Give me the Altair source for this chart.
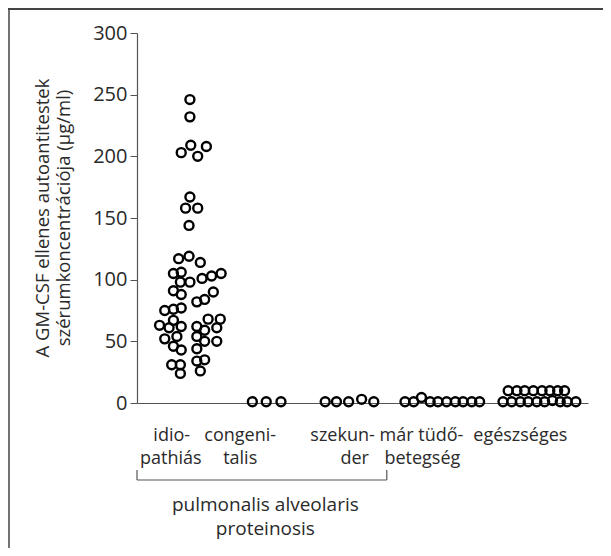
import altair as alt
import pandas as pd

# ---- data ----
groups = ["idiopathiás", "congenitalis", "szekunder", "már tüdőbetegség", "egészséges"]

idio_x = [6.1, 6.1, 5.1, 6.2, 7.0, 8.0, 6.1, 5.6, 7.0, 6.0,
          4.8, 6.0, 7.3,
          4.2, 5.1, 5.0, 6.1, 7.5, 8.6, 9.7,
          4.2, 5.1, 6.9, 7.8, 8.8,
          3.2, 4.2, 5.1,
          2.6, 3.7, 4.2, 5.1, 6.9, 8.2, 9.6, 7.8, 9.2,
          3.2, 4.6, 6.9, 7.8, 9.2,
          4.2, 5.1, 6.9,
          4.0, 5.0, 5.0, 6.9, 7.8, 7.3]
idio_y = [246, 232, 203, 209, 200, 208, 167, 158, 158, 144,
          117, 119, 114,
          105, 106, 98, 98, 101, 103, 105,
          91, 88, 82, 84, 90,
          75, 76, 77,
          63, 61, 67, 62, 62, 68, 68, 59, 61,
          52, 54, 54, 50, 50,
          46, 43, 44,
          31, 31, 24, 34, 35, 26]

cong_x = [13.3, 14.9, 16.6]
cong_y = [1, 1, 1]

szek_x = [21.7, 23.0, 24.4, 25.9, 27.3]
szek_y = [1, 1, 1, 3, 1]

mar_x = [30.9, 31.9, 32.8, 33.8, 34.7, 35.7, 36.7, 37.6, 38.6, 39.5]
mar_y = [1, 1, 4.5, 1, 1, 1, 1, 1, 1, 1]

eg_x = [42.2, 43.2, 44.2, 45.1, 46.1, 47.0, 47.9, 48.8, 49.6, 50.6,
        42.8, 43.8, 44.7, 45.7, 46.7, 47.6, 48.5, 49.3]
eg_y = [1, 1, 1, 1, 1, 1, 2, 1, 1, 1,
        10, 10, 10, 10, 10, 10, 10, 10]

label_line1 = ["idio-", "congeni-", "szekun-", "már tüdő-", "egészséges"]
label_line1_x = [4.0, 11.9, 23.7, 32.8, 44.2]
label_line2 = ["pathiás", "talis", "der", "betegség"]
label_line2_x = [3.9, 11.9, 25.1, 32.9]

bracket_x = [0, 28.8]
bracket_text = ["pulmonalis alveolaris", "proteinosis"]
bracket_text_x = 14.8

y_ticks = [0, 50, 100, 150, 200, 250, 300]
y_title = ["A GM-CSF ellenes autoantitestek", "szérumkoncentrációja (µg/ml)"]

# ---- tables ----
rows = []
for g, xs, ys in zip(groups, [idio_x, cong_x, szek_x, mar_x, eg_x],
                     [idio_y, cong_y, szek_y, mar_y, eg_y]):
    for a, b in zip(xs, ys):
        rows.append({"group": g, "pos": a, "value": b})
pts = pd.DataFrame(rows)

FONT = "Open Sans"
TXT = "#2a2a2a"
AX = "#555555"
FS = 18

xscale = alt.Scale(domain=[0, 52], nice=False, zero=False)
yscale = alt.Scale(domain=[0, 300], nice=False)

points = alt.Chart(pts).mark_point(
    shape="circle", filled=False, stroke="black", strokeWidth=2.4,
    size=80, opacity=1
).encode(
    x=alt.X("pos:Q", scale=xscale,
            axis=alt.Axis(labels=False, ticks=False, title=None, grid=False,
                          domainColor=AX, domainWidth=1.2)),
    y=alt.Y("value:Q", scale=yscale,
            axis=alt.Axis(values=y_ticks, grid=False, tickSize=7,
                          tickColor=AX, domainColor=AX, domainWidth=1.2,
                          labelFont=FONT, labelFontSize=20, labelColor=TXT,
                          labelPadding=3, title=None)),
)

t1 = alt.Chart(pd.DataFrame({"t": [y_title[0]]})).mark_text(
    font=FONT, fontSize=18.5, color=TXT, angle=270, baseline="middle", align="center"
).encode(x=alt.value(-94), y=alt.value(185), text="t:N")
t2 = alt.Chart(pd.DataFrame({"t": [y_title[1]]})).mark_text(
    font=FONT, fontSize=18.5, color=TXT, angle=270, baseline="middle", align="center"
).encode(x=alt.value(-73), y=alt.value(185), text="t:N")

l1 = alt.Chart(pd.DataFrame({"t": label_line1, "x": label_line1_x})).mark_text(
    font=FONT, fontSize=FS, color=TXT, baseline="middle", align="center"
).encode(x=alt.X("x:Q", scale=xscale), y=alt.value(403), text="t:N")

l2 = alt.Chart(pd.DataFrame({"t": label_line2, "x": label_line2_x})).mark_text(
    font=FONT, fontSize=FS, color=TXT, baseline="middle", align="center"
).encode(x=alt.X("x:Q", scale=xscale), y=alt.value(426), text="t:N")

br_df = pd.DataFrame({"x0": [bracket_x[0]], "x1": [bracket_x[1]]})
br_h = alt.Chart(br_df).mark_rule(color=AX, strokeWidth=1.2).encode(
    x=alt.X("x0:Q", scale=xscale), x2="x1:Q", y=alt.value(447))
br_v = alt.Chart(pd.DataFrame({"x": bracket_x})).mark_rule(color=AX, strokeWidth=1.2).encode(
    x=alt.X("x:Q", scale=xscale), y=alt.value(437), y2=alt.value(447))

bt1 = alt.Chart(pd.DataFrame({"t": [bracket_text[0]], "x": [bracket_text_x]})).mark_text(
    font=FONT, fontSize=19, color=TXT, baseline="middle", align="center"
).encode(x=alt.X("x:Q", scale=xscale), y=alt.value(472), text="t:N")
bt2 = alt.Chart(pd.DataFrame({"t": [bracket_text[1]], "x": [bracket_text_x]})).mark_text(
    font=FONT, fontSize=19, color=TXT, baseline="middle", align="center"
).encode(x=alt.X("x:Q", scale=xscale), y=alt.value(496), text="t:N")

frame_top = alt.Chart(pd.DataFrame({"a": [0]})).mark_rule(color="#444444", strokeWidth=2).encode(
    x=alt.value(-129), x2=alt.value(470), y=alt.value(-24))
frame_left = alt.Chart(pd.DataFrame({"a": [0]})).mark_rule(color="#444444", strokeWidth=1.5).encode(
    x=alt.value(-128), y=alt.value(-25), y2=alt.value(520))

chart = alt.layer(points, t1, t2, l1, l2, br_h, br_v, bt1, bt2, frame_top, frame_left).properties(
    width=451, height=370,
    autosize=alt.AutoSizeParams(type="none"),
    padding={"left": 129, "top": 25, "right": 15, "bottom": 145},
    background="transparent",
).configure_view(stroke="transparent", strokeWidth=0)

chart.save("out.html", embed_options={"renderer": "svg", "actions": False})
